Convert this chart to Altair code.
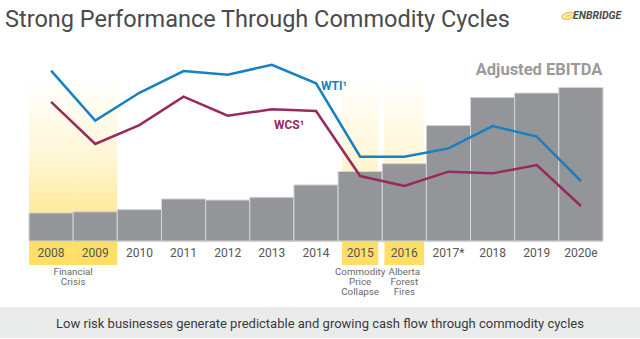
import altair as alt
import pandas as pd

# ---- data ----
years = ["2008", "2009", "2010", "2011", "2012", "2013", "2014",
         "2015", "2016", "2017*", "2018", "2019", "2020e"]
ebitda = [2.5, 2.6, 2.8, 3.75, 3.65, 3.9, 5.0, 6.2, 6.9, 10.3, 12.8, 13.2, 13.7]
wti = [100.2, 70.8, 87.2, 100.0, 97.8, 103.7, 92.8, 49.6, 49.6, 54.5, 67.6, 61.4, 35.3]
wcs = [81.9, 57.1, 68.2, 84.9, 73.7, 77.5, 76.5, 38.2, 32.4, 40.8, 39.8, 44.7, 20.6]
highlight_years = ["2008", "2009", "2015", "2016"]
highlight_half = [0.5, 0.5, 0.41, 0.45]
ann_text = ["Financial\nCrisis", "Commodity\nPrice\nCollapse", "Alberta\nForest\nFires"]
ann_pos = [0.5, 7, 8]

idx = list(range(len(years)))
df = pd.DataFrame({"year": years, "i": idx, "x0": [i - 0.5 for i in idx],
                   "x1": [i + 0.5 for i in idx], "ebitda": ebitda,
                   "wti": wti, "wcs": wcs})
hi = pd.DataFrame({"year": highlight_years,
                   "x0": [years.index(y) - h for y, h in zip(highlight_years, highlight_half)],
                   "x1": [years.index(y) + h for y, h in zip(highlight_years, highlight_half)]})
ann = pd.DataFrame({"t": ann_text, "p": ann_pos})

FONT = "Roboto"
xs = alt.Scale(domain=[-0.5, 12.5], range=[29, 603])
X = lambda f: alt.X(f, scale=xs, axis=None)
ys_bar = alt.Scale(domain=[0, 21.5], range=[241, 0])
ys_oil = alt.Scale(domain=[0, 141.8], range=[241, 0])
one = alt.Data(values=[{"a": 1}])

grad = alt.LinearGradient(
    gradient="linear", x1=0, x2=0, y1=0, y2=1,
    stops=[alt.GradientStop(color="rgba(255,226,120,0)", offset=0),
           alt.GradientStop(color="rgba(255,226,120,0.3)", offset=0.5),
           alt.GradientStop(color="rgba(255,224,115,0.95)", offset=1)])

glow = alt.Chart(hi).mark_rect(fill=grad).encode(
    x=X("x0:Q"), x2="x1:Q", y=alt.value(75), y2=alt.value(241))
labbox = alt.Chart(hi).mark_rect(fill="#FFDF66").encode(
    x=X("x0:Q"), x2="x1:Q", y=alt.value(241), y2=alt.value(265))

bars = alt.Chart(df).mark_rect(fill="#939598", stroke="#d4d5d6", strokeWidth=1).encode(
    x=X("x0:Q"), x2="x1:Q",
    y=alt.Y("ebitda:Q", scale=ys_bar, axis=None), y2=alt.datum(0))
base = alt.Chart(one).mark_rule(color="#d0d0d0", strokeWidth=1).encode(
    x=alt.value(29), x2=alt.value(603), y=alt.value(241.5))

l_wti = alt.Chart(df).mark_line(color="#1581C4", strokeWidth=2.5).encode(
    x=X("i:Q"), y=alt.Y("wti:Q", scale=ys_oil, axis=None))
l_wcs = alt.Chart(df).mark_line(color="#972A5C", strokeWidth=2.5).encode(
    x=X("i:Q"), y=alt.Y("wcs:Q", scale=ys_oil, axis=None))

yr = alt.Chart(df).mark_text(font=FONT, fontSize=12, color="#555555", baseline="middle").encode(
    x=X("i:Q"), y=alt.value(253), text="year:N")
annot = alt.Chart(ann).mark_text(font=FONT, fontSize=9.8, color="#6a6a6a", baseline="top",
                                 lineBreak="\n", lineHeight=9.8).encode(
    x=X("p:Q"), y=alt.value(267), text="t:N")


def txt(t, x, y, **kw):
    return alt.Chart(one).mark_text(text=t, font=FONT, **kw).encode(
        x=alt.value(x), y=alt.value(y))


title = txt("Strong Performance Through Commodity Cycles", 5, 20, fontSize=23.5,
            color="#4a4a4a", align="left", baseline="middle")
lab_wti = txt("WTI¹", 334, 86, fontSize=12, fontWeight="bold", color="#1581C4", baseline="middle")
lab_wcs = txt("WCS¹", 289, 125, fontSize=12, fontWeight="bold", color="#972A5C", baseline="middle")
lab_eb = txt("Adjusted EBITDA", 539, 70, fontSize=16.5, fontWeight="bold", color="#9a9a9a",
             baseline="middle")

banner = alt.Chart(one).mark_rect(fill="#EAEBEB").encode(
    x=alt.value(0), x2=alt.value(640), y=alt.value(307), y2=alt.value(338))
ban_txt = txt("Low risk businesses generate predictable and growing cash flow through commodity cycles",
              320, 324, fontSize=13, color="#3a3a3a", baseline="middle")

swirl = alt.Chart(one).mark_point(
    shape="M -1 0.35 C -1.1 -0.5 0.9 -0.9 1 -0.3 C 1.1 0.4 -0.6 0.8 -0.9 0.3 M -0.5 0.1 L 0.6 -0.15",
    filled=False, stroke="#F2B705", strokeWidth=1.8, size=140).encode(
    x=alt.value(568), y=alt.value(16))
logo = txt("ENBRIDGE", 573, 16, fontSize=10.5, fontWeight="bold", fontStyle="italic",
           color="#4a4a4a", align="left", baseline="middle")

chart = alt.layer(
    banner, glow, labbox, bars, base, l_wti, l_wcs, yr, annot, title,
    lab_wti, lab_wcs, lab_eb, ban_txt, swirl, logo
).resolve_scale(y="independent").properties(
    width=640, height=339, autosize=alt.AutoSizeParams(type="none"), padding=0,
    background="white"
).configure_view(stroke=None)

chart.save("out.html", embed_options={"renderer": "svg", "actions": False})
